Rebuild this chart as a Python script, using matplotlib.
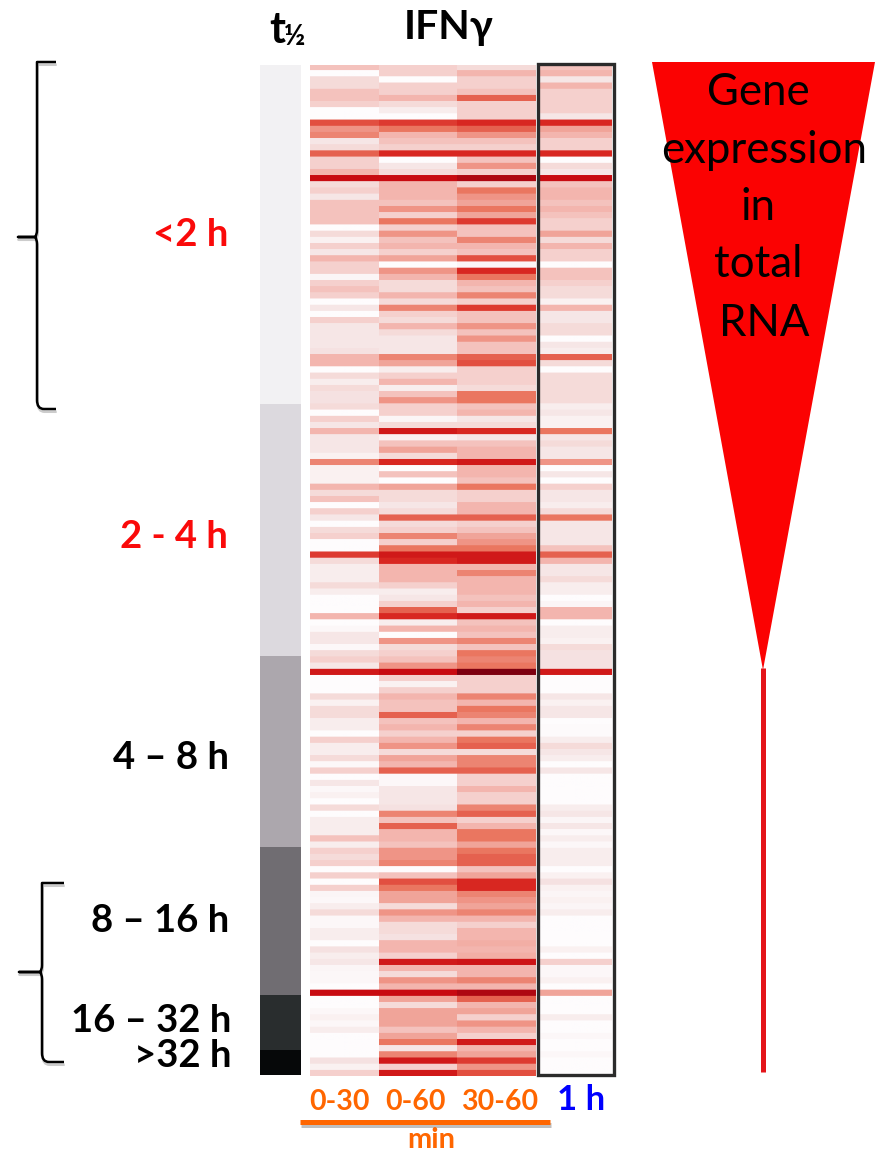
import matplotlib
matplotlib.use('Agg')
import matplotlib.pyplot as plt
import matplotlib.patheffects as pe
import numpy as np
from matplotlib.colors import LinearSegmentedColormap, ListedColormap
from matplotlib.patches import PathPatch, Polygon, Rectangle
from matplotlib.path import Path

plt.rcParams['font.family'] = ['Lato', 'DejaVu Sans']

# fold change shade per gene (0 = white, 9.5 = darkest red)
col_0_30 = [2.5,0,1.5,1.5,2.5,2.5,2,0,0,6,
            4,4.5,1,1.5,5.5,2,2,3,8,1.5,
            2,1,2.5,2.5,2.5,2.5,0,1.5,0.5,2,
            1,3,2,2,0.3,2,2.5,2,0,1,
            0,2,1,1,1,1,1.2,3,3,0,
            1.5,0.7,1.5,1.2,1.2,1.5,0,2,1,3,
            1,1,1,0.5,4.5,0.5,0.5,0.5,3,1.5,
            2.5,0,2,1,0,1.5,2,0,0,6.5,
            1.5,0.7,0.7,0.7,1.5,0.7,0,0,0,3,
            0,0.2,1,1,0.2,1.5,2,1,7.5,0,
            0,0,1.5,0.5,1.5,1.5,0.7,0.7,0,2,
            0.7,0.7,1.5,0.2,2,0,1,0.2,0.5,0,
            1.5,0,0.7,0.7,0.7,2.5,0.7,2,1.5,2,
            0,2,0,2,0.3,0.2,0.7,1.5,0.2,0.2,
            0.7,0.7,0,1.2,0.7,1,0.3,0.2,0.2,0,
            8,0,0,0.2,0.5,0.2,0.7,0,0,0,
            0,1.2,0.5,2]
col_0_60 = [2,2,0,2,2,3,1.5,0.7,0,6.5,
            5,3,2.5,2,7,0,1,1.5,8,3,
            3,3,2.5,4,2,5,2,4,2.5,3,
            2,3.5,0,4,3,1.5,1.5,3,1.5,4.5,
            2,1.5,3,1.5,1,1,1,4.5,3.5,0.7,
            2,3,0.7,2.5,4,2,2,0.3,1.5,7.5,
            0.5,2.5,3.5,1.5,7,0,2.5,0,3.5,1.5,
            1.5,1,1.5,5.5,1.5,2,4.5,2,5,7.5,
            7,3,3,3,2,0.7,1,2,5.5,7,
            0.7,3,0,4,1.5,2,2.5,4,8,2,
            0.5,2,3,2.5,2.5,5.5,2.5,3,2,3,
            4,1.5,3.5,3,5.5,0.2,0.2,1,1,1,
            1.2,4.5,2.5,5.5,3,3,2.5,4,4,4.5,
            0,2.5,6,5,3.5,3.5,1.5,4,3,1.5,
            1.5,1.2,3,3,2,7.5,3,1.5,4,3,
            8,3.5,1.5,3.5,3.5,3.5,2.5,3.5,5,1,
            4.5,7.5,2,7.5]
col_30_60 = [1.5,3,2,2,2.5,5.5,2,2,2,7,
             5.5,4,2.5,2,7,2.5,4,2,8.5,2,
             5,4,3.5,5,3.5,6.5,2.5,2.5,4.5,3,
             2.5,6,0.3,7,5,3,2.5,4.5,2,6.5,
             2.5,2.5,4,2.5,4,2.5,2.5,5.5,6,2,
             2,2,1.5,5,5,2.5,3,1,1.5,7,
             1,2.5,3,3,7.5,3,3,2.5,5,2,
             2,3,3,5.5,2,2.5,3.5,4,5,7.5,
             7.5,3,4.5,3,3,3,2.5,3,2,7.5,
             2.5,3,2.5,4.5,2.5,5,4.5,5,9.5,2,
             2,2,4.5,3,5,4.5,3,4.5,2,5,
             5.5,1.5,4.5,4.5,5.5,2,2,3,2,2,
             4.5,5.5,2,3,5,5,3.5,5,5.5,5.5,
             2.5,3.5,7,7,4.5,4,3.5,4.5,3,2,
             3,3,3.2,3,3.2,7.7,3,3,4.5,3,
             8.5,5.5,3,3.5,2,4,3,2,7.5,3,
             3.5,6.5,4,6]
col_1h = [2.5,3,1,3,2,2,2,2,1,7,
          3.5,3,2,2,7,0,1.5,1,8,2.5,
          3,3,2.5,3,2.5,2,2,3.5,1.5,3,
          2,2,0,2.5,2.5,2,1.5,1.5,0.5,3,
          1,1,1.5,1.5,0,1,0.7,5.5,1.5,0,
          1.5,1.5,1.5,1.5,1.5,0.7,1,0.5,0.5,5,
          1,1.5,1,1,4,0,1,0,2,1,
          1,0.7,1.5,5,1,1,1,1,2.5,5.5,
          3,1,1,1.5,0.7,0.7,0,0.3,3,3,
          0,0.7,0.7,0.5,1.5,1.2,1.2,1.2,7.5,0,
          0,0,1,0.5,1,1,0,0.1,0.1,0.7,
          1.5,1,0.7,0,1,0,0,0,0,0,
          0.7,1,0.3,1,0.2,0.7,0.2,0.7,0.7,0.7,
          0,0.5,1.2,0.5,0.3,0.5,0.3,0.7,0,0,
          0,0,0,0.5,0,2,0.2,0.2,0.5,0,
          3.5,0,0,0,0.7,0,0,0.2,0,0,
          0.2,0,0,0]

# half life classes, genes per class
halflife_labels = ['<2 h', '2 - 4 h', '4 \u2013 8 h', '8 \u2013 16 h', '16 \u2013 32 h', '>32 h']
halflife_counts = [55, 41, 31, 24, 9, 4]
halflife_colors = ['#f2f1f3', '#dcd9de', '#aca7ad', '#706d72', '#292d2e', '#060809']
halflife_text = ['#fa0a0a', '#fa0a0a', 'black', 'black', 'black', 'black']
time_labels = ['0-30', '0-60', '30-60']
triangle_words = ['Gene', 'expression', 'in', 'total', 'RNA']

W, H = 877, 1151
fig = plt.figure(figsize=(W / 100, H / 100), dpi=100)

def pixel_axes(x0, y0, x1, y1):
    return fig.add_axes([x0 / W, 1 - y1 / H, (x1 - x0) / W, (y1 - y0) / H])

cmap = LinearSegmentedColormap.from_list('reds', [
    (0 / 9.5, '#fefcfd'), (1 / 9.5, '#f6e6e6'), (2 / 9.5, '#f5d0cd'), (3 / 9.5, '#f3b5ae'),
    (4 / 9.5, '#ef9486'), (5 / 9.5, '#ea7660'), (6 / 9.5, '#e24f40'), (7 / 9.5, '#d92822'),
    (8 / 9.5, '#c90c12'), (1, '#7d0010')])

# heatmap, one axes per column because the widths differ a bit.
# repeat the rows so the hanning filter only softens the band edges like the scan
columns = [col_0_30, col_0_60, col_30_60, col_1h]
col_x = [(310, 379), (379, 457), (457, 536), (539, 612)]
for vals, (x0, x1) in zip(columns, col_x):
    ax = pixel_axes(x0, 64.5, x1, 1076)
    ax.imshow(np.repeat(np.array(vals), 6)[:, None], cmap=cmap, vmin=0, vmax=9.5,
              aspect='auto', interpolation='hanning')
    ax.axis('off')

# half life strip
strip = np.repeat(np.arange(len(halflife_counts)), halflife_counts)[:, None]
ax = pixel_axes(260, 65, 301, 1075)
ax.pcolormesh(strip, cmap=ListedColormap(halflife_colors), vmin=-0.5, vmax=5.5)
ax.set_ylim(len(strip), 0)
ax.axis('off')

# everything else goes on a pixel overlay
ov = fig.add_axes([0, 0, 1, 1], facecolor='none')
ov.set_xlim(0, W)
ov.set_ylim(H, 0)
ov.axis('off')

ov.add_patch(Rectangle((537.5, 63.5), 76, 1011.5, fill=False, ec='#2b2b2b', lw=2.4))

# triangle and its tail
ov.add_patch(Polygon([(652, 62), (875, 62), (763, 670)], fc='#fb0202', ec='none'))
ov.plot([763, 763], [668, 1072], color='#e4141a', lw=3.6, solid_capstyle='butt')
for word, x, y in zip(triangle_words, [758, 764, 758, 758, 764], [92, 150, 207, 264, 323]):
    ov.text(x, y, word, ha='center', va='center', fontsize=31.5, color='black')

# headers
ov.text(269, 30, 't', ha='left', va='center', fontsize=31, fontweight='bold')
ov.text(284, 37, '\u00bd', ha='left', va='center', fontsize=21, fontweight='bold')
ov.text(449, 27, 'IFN\u03b3', ha='center', va='center', fontsize=29.5, fontweight='bold')

# half life labels
for lab, c, x, y in zip(halflife_labels, halflife_text,
                        [228, 228, 229, 229, 231, 231], [235, 537, 758, 921, 1021, 1056]):
    ov.text(x, y, lab, ha='right', va='center', fontsize=27.5, fontweight='bold', color=c)

# bottom labels
for lab, x in zip(time_labels, [339, 416, 500]):
    ov.text(x, 1102, lab, ha='center', va='center', fontsize=20.5, fontweight='bold', color='#ff6600')
ov.text(581, 1100, '1 h', ha='center', va='center', fontsize=25, fontweight='bold', color='#0000ff')
ov.plot([300, 550], [1122, 1122], color='#ff6600', lw=3.6, solid_capstyle='butt',
        path_effects=[pe.SimpleLineShadow(offset=(0.5, -2), alpha=0.25, shadow_color='black'), pe.Normal()])
ov.text(431, 1139.5, 'min', ha='center', va='center', fontsize=21, fontweight='bold', color='#ff6600')

def brace(x, top, mid, bottom, tip, right):
    r = 7
    verts = [(right, top), (x + r, top), (x, top), (x, top + r + 2),
             (x, mid - r), (x, mid - 2), (x - 2, mid), (tip, mid),
             (x - 2, mid), (x, mid + 2), (x, mid + r),
             (x, bottom - r - 2), (x, bottom), (x + r, bottom), (right, bottom)]
    codes = [Path.MOVETO, Path.CURVE3, Path.CURVE3, Path.LINETO,
             Path.LINETO, Path.CURVE3, Path.LINETO, Path.LINETO,
             Path.LINETO, Path.CURVE3, Path.CURVE3,
             Path.LINETO, Path.CURVE3, Path.CURVE3, Path.LINETO]
    p = PathPatch(Path(verts, codes), fill=False, ec='black', lw=1.8, joinstyle='round')
    p.set_path_effects([pe.SimpleLineShadow(offset=(0.5, -2), alpha=0.2, shadow_color='black'), pe.Normal()])
    ov.add_patch(p)

brace(37, 62, 237, 409, 18, 56)
brace(42, 883, 972, 1062, 19, 64)

fig.savefig('out.png', dpi=100)
